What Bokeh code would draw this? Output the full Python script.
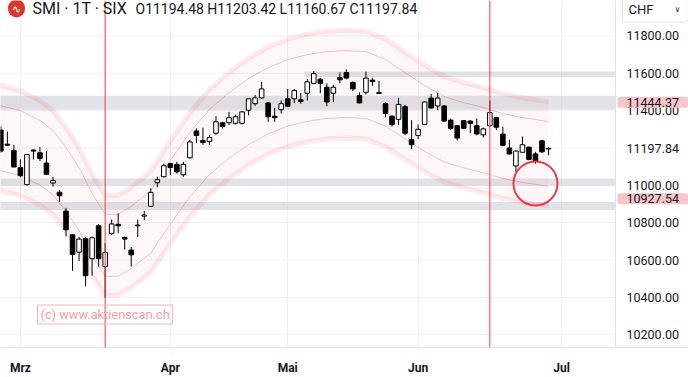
from bokeh.plotting import figure
from bokeh.models import ColumnDataSource, FixedTicker, Span, Label, Range1d
from bokeh.embed import file_html
from bokeh.resources import INLINE

# ---------------- data (daily candles, SMI, 24 Feb - 29 Jun) ----------------
opens = [11296, 11220, 11186, 11095, 11004, 11189, 11174, 11119, 11012, 10963,
         10862, 10735, 10642, 10714, 10607, 10783, 10565, 10741, 10791, 10721,
         10653, 10783, 10835, 10888, 11014, 11046, 11116, 11112, 11056, 11147,
         11291, 11240, 11234, 11279, 11335, 11335, 11332, 11332, 11402, 11437,
         11468, 11441, 11370, 11405, 11463, 11463, 11458, 11493, 11546, 11568,
         11525, 11493, 11577, 11604, 11551, 11481, 11498, 11563, 11496, 11437,
         11370, 11353, 11421, 11244, 11267, 11326, 11467, 11425, 11425, 11349,
         11319, 11346, 11344, 11319, 11270, 11319, 11362, 11274, 11200, 11104,
         11177, 11204, 11168, 11238, 11194.48]
highs = [11316, 11288, 11217, 11138, 11168, 11191, 11204, 11183, 11046, 10975,
         10879, 10737, 10723, 10723, 10726, 10793, 10691, 10817, 10849, 10726,
         10670, 10817, 10862, 10984, 11046, 11116, 11121, 11126, 11126, 11244,
         11305, 11309, 11270, 11370, 11340, 11393, 11379, 11397, 11463, 11484,
         11554, 11446, 11414, 11454, 11516, 11516, 11493, 11568, 11612, 11574,
         11546, 11538, 11604, 11621, 11556, 11498, 11609, 11574, 11559, 11446,
         11375, 11468, 11431, 11349, 11326, 11449, 11489, 11495, 11428, 11358,
         11323, 11349, 11349, 11358, 11309, 11454, 11367, 11314, 11244, 11186,
         11262, 11208, 11179, 11244, 11203.42]
lows = [11174, 11213, 11097, 11042, 10998, 11138, 11130, 11058, 10993, 10911,
        10726, 10542, 10595, 10460, 10516, 10565, 10397, 10735, 10744, 10656,
        10565, 10723, 10814, 10884, 10989, 11042, 11056, 11063, 11046, 11144,
        11226, 11217, 11217, 11270, 11304, 11323, 11326, 11326, 11375, 11425,
        11463, 11340, 11340, 11384, 11419, 11441, 11437, 11454, 11542, 11493,
        11423, 11446, 11546, 11568, 11504, 11439, 11486, 11533, 11490, 11363,
        11314, 11323, 11268, 11195, 11247, 11323, 11411, 11402, 11340, 11296,
        11240, 11302, 11279, 11267, 11256, 11314, 11296, 11209, 11165, 11074,
        11174, 11134, 11116, 11174, 11160.67]
closes = [11183, 11215, 11098, 11051, 11165, 11183, 11144, 11059, 11025, 10944,
          10762, 10630, 10712, 10516, 10719, 10607, 10640, 10793, 10783, 10712,
          10628, 10787, 10841, 10962, 11030, 11105, 11095, 11072, 11112, 11232,
          11267, 11229, 11256, 11340, 11314, 11362, 11367, 11393, 11463, 11468,
          11516, 11367, 11362, 11437, 11423, 11507, 11449, 11554, 11598, 11546,
          11446, 11525, 11565, 11574, 11516, 11441, 11574, 11556, 11492, 11384,
          11326, 11433, 11279, 11217, 11300, 11446, 11414, 11467, 11344, 11305,
          11253, 11305, 11332, 11275, 11302, 11389, 11311, 11214, 11168, 11183,
          11217, 11138, 11130, 11179, 11197.84]

# month ticks (bar index of first trading day of month)
month_ticks = [3, 26, 44, 64, 86]
month_labels = ["Mrz", "Apr", "Mai", "Jun", "Jul"]
price_ticks = [10200, 10400, 10600, 10800, 11000, 11200, 11400, 11600, 11800]

# envelope centre line and envelope widths
env_idx = [-1, 0, 3, 6, 8, 10, 12, 14, 16, 18, 20, 23, 26, 29, 32, 35, 38, 41, 44, 47,
           50, 53, 56, 59, 62, 65, 68, 71, 74, 77, 80, 84]
env_mid = [11262, 11252, 11226, 11174, 11121, 11032, 10926, 10789, 10679, 10679, 10721,
           10805, 10963, 11110, 11232, 11321, 11395, 11453, 11495, 11521, 11537, 11542,
           11537, 11495, 11426, 11358, 11300, 11268, 11242, 11210, 11189, 11168]
env_outer_pct = 2.5
env_inner_pct = 1.55

# horizontal support / resistance zones
zone_bottoms = [11580, 11405, 10997, 10868]
zone_tops = [11609, 11479, 11037, 10910]
zone_starts = [46.6, -2, -2, -2]

level_values = [11444.37, 10927.54]
event_bars = [16, 75]
circle_x = [82.0]
circle_y = [11010]

# ---------------- figure ----------------
RED = "#f23645"
TXT = "#131722"
FONT = "Roboto"
BAR_PX = 6.52          # pixels per bar
X0 = -0.05             # bar index at left edge
SCALE_X = 615          # pixel where the price scale starts
XEND = X0 + SCALE_X / BAR_PX

p = figure(width=688, height=377, x_range=Range1d(X0, X0 + 688 / BAR_PX),
           y_range=Range1d(10131.6, 11989.4),
           output_backend="svg", toolbar_location=None,
           min_border_left=0, min_border_top=0, min_border_right=0, min_border_bottom=24)
p.outline_line_color = None
p.background_fill_color = "white"
p.border_fill_color = "white"
p.yaxis.visible = False
p.ygrid.visible = False

# x axis
p.xaxis.ticker = FixedTicker(ticks=month_ticks)
p.xaxis.major_label_overrides = {t: l for t, l in zip(month_ticks, month_labels)}
p.xaxis.major_tick_line_color = None
p.xaxis.minor_tick_line_color = None
p.xaxis.axis_line_color = "#e0e3eb"
p.xaxis.major_label_text_font = FONT
p.xaxis.major_label_text_font_size = "12px"
p.xaxis.major_label_text_font_style = "bold"
p.xaxis.major_label_text_color = TXT
p.xaxis.major_label_standoff = 7
p.xgrid.grid_line_color = "#eef0f3"

# horizontal grid (chart area only)
p.segment(x0=[X0 - 1] * len(price_ticks), x1=[XEND] * len(price_ticks),
          y0=price_ticks, y1=price_ticks, line_color="#eef0f3", line_width=1)

# zones
p.quad(left=zone_starts, right=[XEND] * len(zone_starts), bottom=zone_bottoms, top=zone_tops,
       fill_color="#d1d4dc", fill_alpha=0.65, line_color=None)

# envelope
uo = [v * (1 + env_outer_pct / 100) for v in env_mid]
ui = [v * (1 + env_inner_pct / 100) for v in env_mid]
li = [v * (1 - env_inner_pct / 100) for v in env_mid]
lo = [v * (1 - env_outer_pct / 100) for v in env_mid]
p.varea(x=env_idx, y1=lo, y2=uo, fill_color=RED, fill_alpha=0.04)
for arr in (uo, lo):
    p.line(env_idx, arr, line_color=RED, line_alpha=0.11, line_width=5)
for arr in (ui, li):
    p.line(env_idx, arr, line_color=RED, line_alpha=0.3, line_width=1)

# candles
idx = list(range(len(closes)))
src = ColumnDataSource(dict(
    x=idx, high=highs, low=lows,
    top=[max(o, c) for o, c in zip(opens, closes)],
    bottom=[min(o, c) for o, c in zip(opens, closes)],
    fill=["white" if c >= o else "black" for o, c in zip(opens, closes)],
))
p.segment(x0="x", y0="high", x1="x", y1="low", source=src, line_color="black", line_width=1)
p.vbar(x="x", width=0.7, top="top", bottom="bottom", source=src,
       fill_color="fill", line_color="black", line_width=1)

# event lines and circle
for b in event_bars:
    p.add_layout(Span(location=b, dimension="height", line_color=RED, line_width=1))
p.scatter(x=circle_x, y=circle_y, marker="circle", size=44, fill_color=None,
          line_color=RED, line_width=2)

# price scale separator
p.add_layout(Span(location=XEND, dimension="height", line_color="#e0e3eb", line_width=1))

# header
H = 353
p.add_layout(Label(x=16, y=H - 14, x_units="screen", y_units="screen", text="∿",
                   text_align="center", text_baseline="middle", text_color="white",
                   text_font_size="11px", background_fill_color="#d9392e",
                   border_radius=9, padding=(4, 3)))
p.add_layout(Label(x=32, y=H - 14, x_units="screen", y_units="screen", text="SMI · 1T · SIX",
                   text_baseline="middle", text_color=TXT, text_font=FONT, text_font_size="16px"))
p.add_layout(Label(x=135, y=H - 14, x_units="screen", y_units="screen",
                   text="O11194.48 H11203.42 L11160.67 C11197.84",
                   text_baseline="middle", text_color=TXT, text_font=FONT, text_font_size="14px"))

# price scale tick labels
for t in price_ticks:
    if t == 11200:
        continue
    p.add_layout(Label(x=626, y=t, x_units="screen", text=f"{t:.2f}",
                       text_baseline="middle", text_color=TXT, text_font=FONT,
                       text_font_size="12.5px"))

# currency box
p.add_layout(Label(x=622, y=H - 15, x_units="screen", y_units="screen", text="CHF",
                   text_baseline="middle", text_color=TXT, text_font=FONT, text_font_size="13px",
                   border_line_color="#e0e3eb", border_radius=4, padding=(6, 35, 5, 5)))
p.add_layout(Label(x=677, y=H - 15, x_units="screen", y_units="screen", text="∨",
                   text_align="center", text_baseline="middle", text_color=TXT,
                   text_font="DejaVu Sans", text_font_size="8px"))

# price labels on the scale
for lv in level_values:
    p.add_layout(Label(x=617, y=lv, x_units="screen", text=f"{lv:.2f}",
                       text_baseline="middle", text_color=TXT, text_font=FONT,
                       text_font_size="12.5px", background_fill_color="#f8c5c8",
                       border_radius=2, padding=(9, 1)))
p.add_layout(Label(x=626, y=closes[-1], x_units="screen", text=f"{closes[-1]:.2f}",
                   text_baseline="middle", text_color=TXT, text_font=FONT, text_font_size="12.5px"))

# watermark
p.add_layout(Label(x=37, y=H - 320, x_units="screen", y_units="screen",
                   text="(c) www.aktienscan.ch", text_baseline="middle",
                   text_color="#f29ea2", text_font=FONT, text_font_size="12.8px",
                   border_line_color="#f6b3b6", padding=(3, 2)))

open("out.html", "w").write(file_html(p, INLINE))
